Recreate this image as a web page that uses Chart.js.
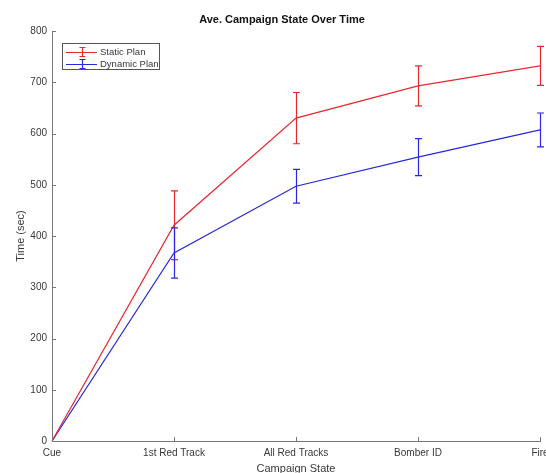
<!DOCTYPE html>
<html>
<head>
<meta charset="utf-8">
<script src="https://cdn.jsdelivr.net/npm/chart.js@4/dist/chart.umd.min.js"></script>
<style>
  html, body { margin: 0; padding: 0; background: #fff; }
  #wrap { width: 546px; height: 473px; }
</style>
</head>
<body>
<div id="wrap"><canvas id="campaign-chart" width="546" height="473"></canvas></div>
<script>
const categories = ['Cue', '1st Red Track', 'All Red Tracks', 'Bomber ID', 'Fire']
const staticMean = [0, 421, 630, 693, 732]
const staticErr = [0, 67, 50, 39, 38]
const dynamicMean = [0, 367, 497, 554, 607]
const dynamicErr = [0, 49, 33, 36, 33]
const yTicks = [0, 100, 200, 300, 400, 500, 600, 700, 800]

const redColor = 'rgb(232, 40, 48)'
const blueColor = 'rgb(40, 40, 224)'
const textColor = '#383838'
const axisColor = '#777777'
const fontFamily = '"Liberation Sans", Arial, Helvetica, sans-serif'

// Error bars, inward ticks, title and legend
const extrasPlugin = {
  id: 'extras',
  afterDatasetsDraw: (chart) => {
    const ctx = chart.ctx
    const x = chart.scales.x
    const y = chart.scales.y
    const area = chart.chartArea

    // Inward ticks
    ctx.save()
    ctx.strokeStyle = axisColor
    ctx.lineWidth = 1
    yTicks.forEach((v) => {
      const py = Math.round(y.getPixelForValue(v)) + 0.5
      ctx.beginPath()
      ctx.moveTo(area.left, py)
      ctx.lineTo(area.left + 4, py)
      ctx.stroke()
    })
    categories.forEach((c, i) => {
      const px = Math.round(x.getPixelForValue(i)) + 0.5
      ctx.beginPath()
      ctx.moveTo(px, area.bottom)
      ctx.lineTo(px, area.bottom - 4)
      ctx.stroke()
    })
    ctx.restore()

    // Error bars
    const series = [
      { mean: staticMean, err: staticErr, color: redColor },
      { mean: dynamicMean, err: dynamicErr, color: blueColor }
    ]
    ctx.save()
    ctx.lineWidth = 1.2
    series.forEach((s) => {
      ctx.strokeStyle = s.color
      s.mean.forEach((m, i) => {
        if (!s.err[i]) return
        const px = Math.round(x.getPixelForValue(i)) + 0.5
        const top = y.getPixelForValue(m + s.err[i])
        const bottom = y.getPixelForValue(m - s.err[i])
        ctx.beginPath()
        ctx.moveTo(px, top)
        ctx.lineTo(px, bottom)
        ctx.moveTo(px - 3.5, top)
        ctx.lineTo(px + 3.5, top)
        ctx.moveTo(px - 3.5, bottom)
        ctx.lineTo(px + 3.5, bottom)
        ctx.stroke()
      })
    })
    ctx.restore()

    // Title
    ctx.save()
    ctx.fillStyle = '#111'
    ctx.font = 'bold 11px ' + fontFamily
    ctx.textAlign = 'center'
    ctx.textBaseline = 'middle'
    ctx.fillText('Ave. Campaign State Over Time', 282, 20)
    ctx.restore()

    // Legend
    ctx.save()
    ctx.fillStyle = '#fff'
    ctx.fillRect(62.5, 43.5, 97, 26)
    ctx.strokeStyle = '#555'
    ctx.lineWidth = 1
    ctx.strokeRect(62.5, 43.5, 97, 26)
    const entries = [
      { label: 'Static Plan', color: redColor, y: 52 },
      { label: 'Dynamic Plan', color: blueColor, y: 64 }
    ]
    entries.forEach((e) => {
      ctx.strokeStyle = e.color
      ctx.lineWidth = 1.2
      ctx.beginPath()
      ctx.moveTo(66, e.y + 0.5)
      ctx.lineTo(97, e.y + 0.5)
      ctx.moveTo(82.5, e.y - 4.5)
      ctx.lineTo(82.5, e.y + 4.5)
      ctx.moveTo(79.5, e.y - 4.5)
      ctx.lineTo(85.5, e.y - 4.5)
      ctx.moveTo(79.5, e.y + 4.5)
      ctx.lineTo(85.5, e.y + 4.5)
      ctx.stroke()
      ctx.fillStyle = textColor
      ctx.font = '9.5px ' + fontFamily
      ctx.textAlign = 'left'
      ctx.textBaseline = 'middle'
      ctx.fillText(e.label, 100, e.y + 0.5)
    })
    ctx.restore()
  }
}

const campaignChart = document.querySelector('#campaign-chart')
if (campaignChart) {
  new Chart(campaignChart, {
    type: 'line',
    data: {
      labels: categories,
      datasets: [
        {
          label: 'Static Plan',
          data: staticMean,
          borderColor: redColor,
          borderWidth: 1.2,
          pointRadius: 0,
          tension: 0
        },
        {
          label: 'Dynamic Plan',
          data: dynamicMean,
          borderColor: blueColor,
          borderWidth: 1.2,
          pointRadius: 0,
          tension: 0
        }
      ]
    },
    options: {
      responsive: false,
      animation: false,
      layout: {
        padding: { top: 31, right: 6, left: 0, bottom: 0 }
      },
      plugins: {
        legend: { display: false },
        title: { display: false },
        tooltip: { enabled: false }
      },
      scales: {
        x: {
          offset: false,
          grid: { display: false, drawTicks: false },
          border: { display: true, color: axisColor, width: 1 },
          ticks: {
            padding: 6,
            maxRotation: 0,
            autoSkip: false,
            color: textColor,
            font: { family: fontFamily, size: 10 }
          },
          title: {
            display: true,
            text: 'Campaign State',
            color: textColor,
            font: { family: fontFamily, size: 11 },
            padding: { top: 0, bottom: -3 }
          },
          afterFit: (scale) => {
            scale.height = 32
            scale.paddingLeft = 0
            scale.paddingRight = 0
          }
        },
        y: {
          min: 0,
          max: 800,
          grid: { display: false, drawTicks: false },
          border: { display: true, color: axisColor, width: 1 },
          ticks: {
            stepSize: 100,
            padding: 5,
            color: textColor,
            font: { family: fontFamily, size: 10 }
          },
          title: {
            display: true,
            text: 'Time (sec)',
            color: textColor,
            font: { family: fontFamily, size: 11 },
            padding: { top: 14, bottom: 0 }
          },
          afterFit: (scale) => {
            scale.width = 52
            scale.paddingTop = 0
            scale.paddingBottom = 0
          }
        }
      }
    },
    plugins: [extrasPlugin]
  })
}
</script>
</body>
</html>
